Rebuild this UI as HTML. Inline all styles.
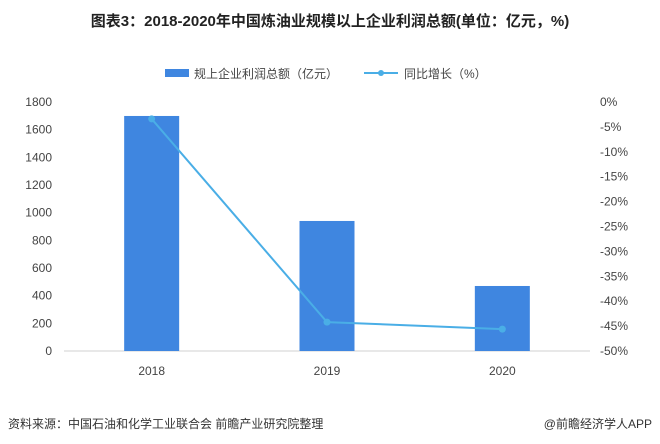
<!DOCTYPE html>
<html><head><meta charset="utf-8"><style>
body{margin:0;background:#fff;}
svg{display:block;font-family:"Liberation Sans","Noto Sans CJK SC",sans-serif;}
</style></head><body>
<svg id="c" width="660" height="444">
<text x="330" y="26" text-anchor="middle" font-size="15" font-weight="bold" fill="#222">图表3：2018-2020年中国炼油业规模以上企业利润总额(单位：亿元，%)</text>
<g>
<rect x="165" y="69" width="24" height="8" fill="#3f86e0"/>
<text x="194" y="78" font-size="12" fill="#444">规上企业利润总额（亿元）</text>
<line x1="364" y1="73" x2="398" y2="73" stroke="#4aaee6" stroke-width="2"/>
<circle cx="381" cy="73" r="3" fill="#4aaee6"/>
<text x="404" y="78" font-size="12" fill="#444">同比增长（%）</text>
</g>
<g id="plot"></g>
<text x="8" y="428" font-size="12" fill="#333">资料来源：中国石油和化学工业联合会 前瞻产业研究院整理</text>
<text x="652" y="428" text-anchor="end" font-size="12" fill="#333">@前瞻经济学人APP</text>
</svg>
<script>
const categories=["2018","2019","2020"];
const profit=[1699,940,470];
const growth=[-3.4,-44.2,-45.6];
const leftTicks=[0,200,400,600,800,1000,1200,1400,1600,1800];
const rightTicks=[0,-5,-10,-15,-20,-25,-30,-35,-40,-45,-50];
const NS="http://www.w3.org/2000/svg";
const g=document.getElementById('plot');
const x0=64,x1=590,yTop=102,yBot=351;
const band=(x1-x0)/categories.length;
const xc=i=>x0+band*(i+0.5);
const yL=v=>yBot-(v/1800)*(yBot-yTop);
const yR=v=>yTop+(-v/50)*(yBot-yTop);
function mk(t,a){const e=document.createElementNS(NS,t);for(const k in a)e.setAttribute(k,a[k]);g.appendChild(e);return e;}
leftTicks.forEach(v=>{const t=mk('text',{x:52,y:yL(v)+4,'text-anchor':'end','font-size':12,fill:'#444'});t.textContent=v;

});
rightTicks.forEach(v=>{const t=mk('text',{x:600,y:yR(v)+4,'font-size':12,fill:'#444'});t.textContent=v+'%';

});
const ax=mk('line',{x1:x0,y1:yBot,x2:x1,y2:yBot,stroke:'#d0d0d0'});


categories.forEach((c,i)=>{
const r=mk('rect',{x:xc(i)-27.5,y:yL(profit[i]),width:55,height:yBot-yL(profit[i]),fill:'#3f86e0'});


const t=mk('text',{x:xc(i),y:375,'text-anchor':'middle','font-size':12,fill:'#444'});t.textContent=c;


});
const pl=mk('polyline',{points:growth.map((v,i)=>xc(i)+','+yR(v)).join(' '),fill:'none',stroke:'#4aaee6','stroke-width':2});


growth.forEach((v,i)=>{const c=mk('circle',{cx:xc(i),cy:yR(v),r:3.5,fill:'#4aaee6'});

});
</script>
</body></html>
